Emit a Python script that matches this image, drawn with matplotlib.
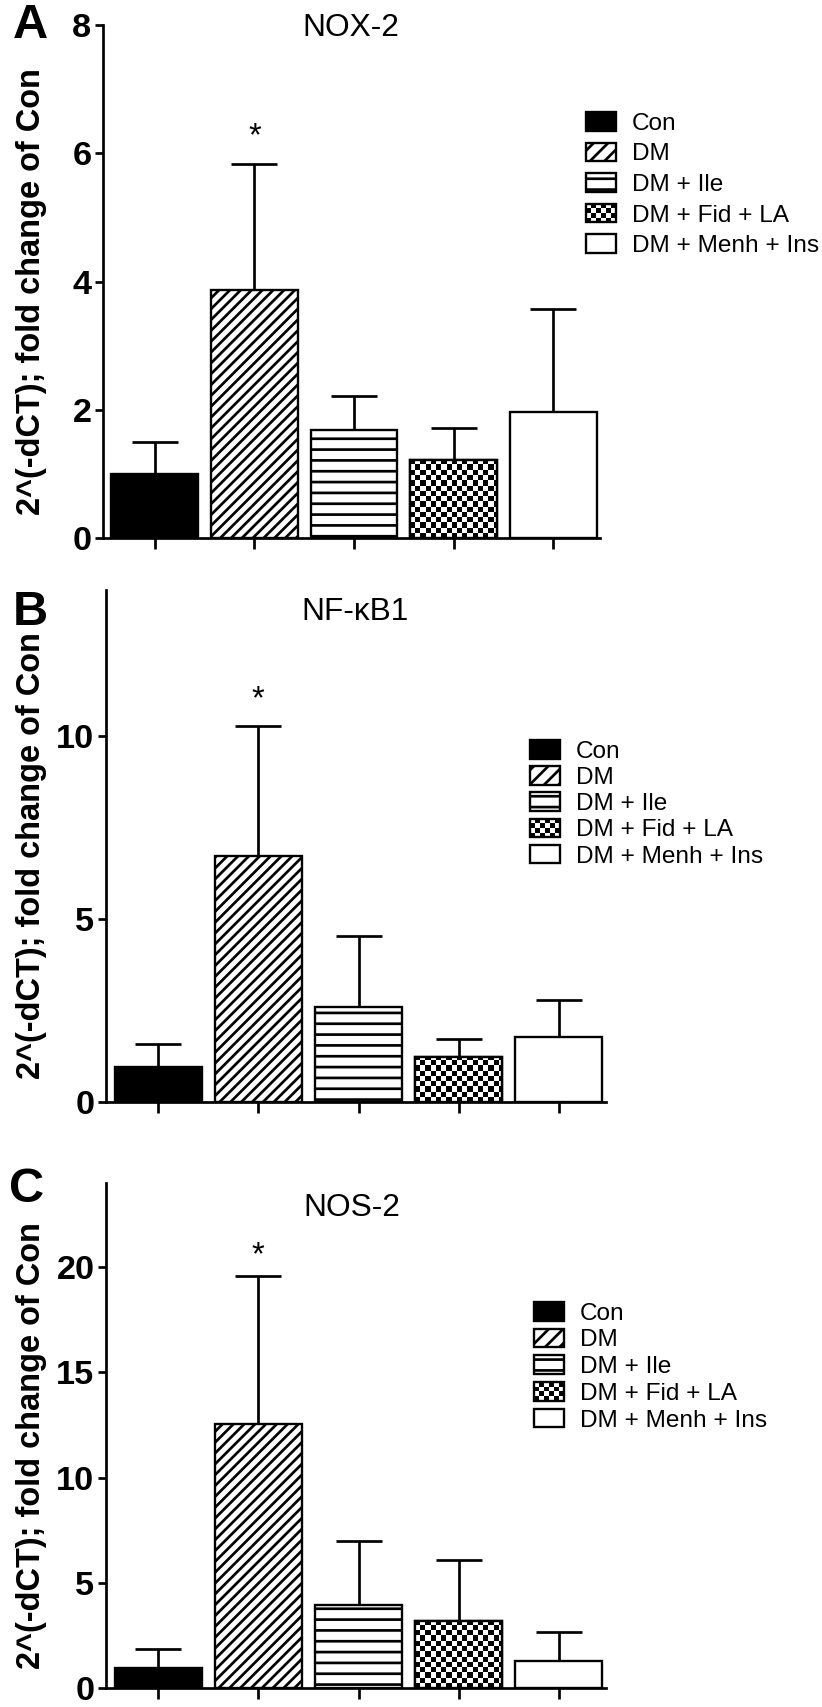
import matplotlib
matplotlib.use("Agg")
import matplotlib.pyplot as plt
import numpy as np
from matplotlib.patches import Patch, Rectangle
from matplotlib.legend_handler import HandlerBase

# ---------------- data ----------------
groups = ["Con", "DM", "DM + Ile", "DM + Fid + LA", "DM + Menh + Ins"]

nox2_mean = [1.00, 3.87, 1.69, 1.22, 1.96]
nox2_err = [0.49, 1.97, 0.52, 0.50, 1.61]

nfkb1_mean = [0.95, 6.74, 2.60, 1.22, 1.77]
nfkb1_err = [0.64, 3.53, 1.94, 0.50, 1.02]

nos2_mean = [0.96, 12.54, 3.95, 3.20, 1.27]
nos2_err = [0.91, 7.03, 3.02, 2.90, 1.41]

titles = ["NOX-2", "NF-\u03baB1", "NOS-2"]
panel_letters = ["A", "B", "C"]
ylims = [8, 14, 24]
yticks = [[0, 2, 4, 6, 8], [0, 5, 10], [0, 5, 10, 15, 20]]
star_y = [6.37, 11.2, 20.9]
ylabel = "2^(-dCT); fold change of Con"

# ---------------- style ----------------
DPI = 130
W, H = 822, 1707
plt.rcParams["font.family"] = ["Liberation Sans", "DejaVu Sans"]
plt.rcParams["hatch.linewidth"] = 1.5
plt.rcParams["hatch.color"] = "black"

fig = plt.figure(figsize=(W / DPI, H / DPI), dpi=DPI)
fig.patch.set_facecolor("white")

# axes rectangles in pixels: left, right, top, bottom
ax_px = [(103, 600, 25, 538), (106, 606, 590, 1102), (106, 606, 1183, 1688)]
title_px = [(351, 28), (355, 612), (352, 1208)]
letter_px = [(30, 26), (30, 612), (27, 1189)]
legend_px = [(586, 112), (530, 740), (534, 1302)]
legend_spacing = [0.32, 0.14, 0.16]

hatches = [None, "////", "--", "checker", None]
faces = ["black", "white", "white", "white", "white"]

CELL_PX = 5.2
BAR_W = 0.87
LW_BAR = 1.3


def add_checker(ax, bar):
    x0 = bar.get_x()
    w = bar.get_width()
    h = bar.get_height()
    p0 = ax.transData.transform((0, 0))
    px_x = ax.transData.transform((1, 0))[0] - p0[0]
    px_y = ax.transData.transform((0, 1))[1] - p0[1]
    ncol = int(np.ceil(w * px_x / CELL_PX))
    nrow = int(np.ceil(h * px_y / CELL_PX))
    arr = np.add.outer(np.arange(nrow), np.arange(ncol)) % 2
    ext = (x0, x0 + ncol * CELL_PX / px_x, 0, nrow * CELL_PX / px_y)
    im = ax.imshow(arr, cmap="gray", vmin=0, vmax=1, extent=ext, origin="lower",
                   interpolation="nearest", aspect="auto", zorder=2.2)
    im.set_clip_path(bar)


class CheckerHandler(HandlerBase):
    def create_artists(self, legend, orig_handle, xdescent, ydescent,
                       width, height, fontsize, trans):
        arts = [Rectangle((-xdescent, -ydescent), width, height,
                          facecolor="white", edgecolor="none", transform=trans)]
        ncol, nrow = 6, 4
        cw, ch = width / ncol, height / nrow
        for i in range(nrow):
            for j in range(ncol):
                if (i + j) % 2 == 0:
                    arts.append(Rectangle((-xdescent + j * cw, -ydescent + i * ch), cw, ch,
                                          facecolor="black", edgecolor="none",
                                          transform=trans))
        arts.append(Rectangle((-xdescent, -ydescent), width, height,
                              facecolor="none", edgecolor="black", lw=LW_BAR,
                              transform=trans))
        return arts


means = [nox2_mean, nfkb1_mean, nos2_mean]
errs = [nox2_err, nfkb1_err, nos2_err]
x = np.arange(len(groups))

for k in range(3):
    l, r, t, b = ax_px[k]
    ax = fig.add_axes([l / W, 1 - b / H, (r - l) / W, (b - t) / H])
    ax.set_xlim(-0.52, 4.47)
    ax.set_ylim(0, ylims[k])

    bars = []
    for i in range(len(groups)):
        hatch = hatches[i] if hatches[i] not in (None, "checker") else None
        bc = ax.bar(x[i], means[k][i], width=BAR_W, color=faces[i], edgecolor="black",
                    linewidth=LW_BAR, hatch=hatch, zorder=2)
        bars.append(bc[0])
    # checker texture
    add_checker(ax, bars[3])
    ax.bar(x[3], means[k][3], width=BAR_W, facecolor="none", edgecolor="black",
           linewidth=LW_BAR, zorder=2.5)

    ax.errorbar(x, means[k], yerr=[np.zeros(len(x)), errs[k]], fmt="none",
                ecolor="black", elinewidth=1.5, capsize=12.7, capthick=1.5, zorder=1.5)

    ax.set_xlim(-0.52, 4.47)
    ax.set_ylim(0, ylims[k])

    for s in ["top", "right"]:
        ax.spines[s].set_visible(False)
    for s in ["left", "bottom"]:
        ax.spines[s].set_linewidth(1.5)
    ax.set_xticks(x)
    ax.set_xticklabels([])
    ax.set_yticks(yticks[k])
    ax.tick_params(axis="x", length=6, width=1.5, direction="out")
    ax.tick_params(axis="y", length=4.4, width=1.5, direction="out", pad=2,
                   labelsize=19)
    for lab in ax.get_yticklabels():
        lab.set_fontweight("bold")

    # star
    ax.annotate("*", (x[1], star_y[k]), xytext=(0, -4.2), textcoords="offset points",
                ha="center", va="center", fontsize=18)

    # title
    tx, ty = title_px[k]
    fig.text(tx / W, 1 - ty / H, titles[k], ha="center", va="center", fontsize=17.5)

    # panel letter
    lx, ly = letter_px[k]
    fig.text(lx / W, 1 - ly / H, panel_letters[k], ha="center", va="center",
             fontsize=27, fontweight="bold")

    # y label
    fig.text(32 / W, 1 - ((t + b) / 2 + 10) / H, ylabel, rotation=90, ha="center",
             va="center", fontsize=18, fontweight="bold")

    # legend
    handles = [
        Patch(facecolor="black", edgecolor="black", linewidth=LW_BAR),
        Patch(facecolor="white", edgecolor="black", hatch="///", linewidth=LW_BAR),
        Patch(facecolor="white", edgecolor="black", hatch="--", linewidth=LW_BAR),
        Patch(facecolor="white", edgecolor="black", linewidth=LW_BAR),
        Patch(facecolor="white", edgecolor="black", linewidth=LW_BAR),
    ]
    gx, gy = legend_px[k]
    ax.legend(handles, groups, loc="upper left",
              bbox_to_anchor=(gx / W, 1 - gy / H), bbox_transform=fig.transFigure,
              frameon=False, borderpad=0, borderaxespad=0, fontsize=13.5,
              handlelength=1.23, handleheight=0.8, handletextpad=0.65,
              labelspacing=legend_spacing[k], handler_map={handles[3]: CheckerHandler()})

fig.savefig("out.png", dpi=DPI, facecolor="white")
